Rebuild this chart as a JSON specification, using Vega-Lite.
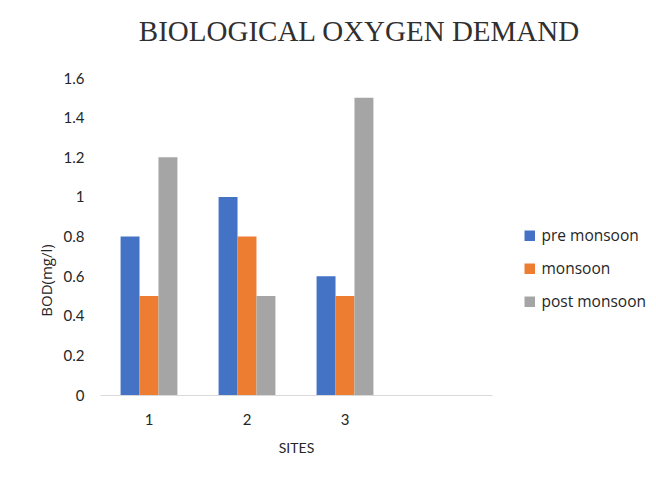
{
  "$schema": "https://vega.github.io/schema/vega-lite/v6.json",
  "width": 392,
  "height": 317,
  "autosize": {"type": "none"},
  "padding": {"left": 100, "top": 78, "right": 164, "bottom": 84},
  "background": "white",
  "title": {
    "text": "BIOLOGICAL OXYGEN DEMAND",
    "font": "Liberation Serif",
    "fontSize": 29,
    "fontWeight": "normal",
    "color": "#303030",
    "anchor": "middle",
    "frame": "group",
    "dx": 63,
    "offset": 24
  },
  "data": {
    "values": [
      {"site": "1", "season": "pre monsoon", "bod": 0.8},
      {"site": "1", "season": "monsoon", "bod": 0.5},
      {"site": "1", "season": "post monsoon", "bod": 1.2},
      {"site": "2", "season": "pre monsoon", "bod": 1.0},
      {"site": "2", "season": "monsoon", "bod": 0.8},
      {"site": "2", "season": "post monsoon", "bod": 0.5},
      {"site": "3", "season": "pre monsoon", "bod": 0.6},
      {"site": "3", "season": "monsoon", "bod": 0.5},
      {"site": "3", "season": "post monsoon", "bod": 1.5}
    ]
  },
  "mark": {"type": "bar"},
  "encoding": {
    "x": {
      "field": "site",
      "type": "nominal",
      "scale": {"domain": ["1", "2", "3", "4"], "paddingInner": 0.42, "paddingOuter": 0.21},
      "axis": {
        "title": "SITES",
        "labelAngle": 0,
        "labelExpr": "datum.label == '4' ? '' : datum.label",
        "labelFont": "Lato",
        "labelFontSize": 15,
        "labelColor": "#262626",
        "labelPadding": 17,
        "titleFont": "Lato",
        "titleFontSize": 14,
        "titleFontWeight": "normal",
        "titleColor": "#262626",
        "titlePadding": 14,
        "ticks": false,
        "grid": false,
        "domainColor": "#d9d9d9",
        "domainWidth": 1
      }
    },
    "xOffset": {
      "field": "season",
      "type": "nominal",
      "sort": ["pre monsoon", "monsoon", "post monsoon"],
      "scale": {"paddingInner": 0, "paddingOuter": 0}
    },
    "y": {
      "field": "bod",
      "type": "quantitative",
      "scale": {"domain": [0, 1.6], "nice": false},
      "axis": {
        "title": "BOD(mg/l)",
        "values": [0, 0.2, 0.4, 0.6, 0.8, 1, 1.2, 1.4, 1.6],
        "format": "~g",
        "labelFont": "Lato",
        "labelFontSize": 15,
        "labelColor": "#262626",
        "labelPadding": 16,
        "titleFont": "Open Sans",
        "titleFontSize": 15,
        "titleFontWeight": "normal",
        "titleColor": "#262626",
        "titleX": -54,
        "titleY": 202,
        "titleAlign": "center",
        "titleBaseline": "middle",
        "ticks": false,
        "grid": false,
        "domain": false
      }
    },
    "color": {
      "field": "season",
      "type": "nominal",
      "sort": ["pre monsoon", "monsoon", "post monsoon"],
      "scale": {
        "domain": ["pre monsoon", "monsoon", "post monsoon"],
        "range": ["#4472C4", "#ED7D31", "#A5A5A5"]
      },
      "legend": {
        "title": null,
        "orient": "none",
        "legendX": 422,
        "legendY": 150,
        "symbolType": "square",
        "symbolSize": 110,
        "symbolStrokeWidth": 0,
        "labelFont": "Open Sans",
        "labelFontSize": 15.5,
        "labelColor": "#262626",
        "labelOffset": 4,
        "rowPadding": 16
      }
    }
  },
  "config": {
    "view": {"stroke": null}
  }
}
